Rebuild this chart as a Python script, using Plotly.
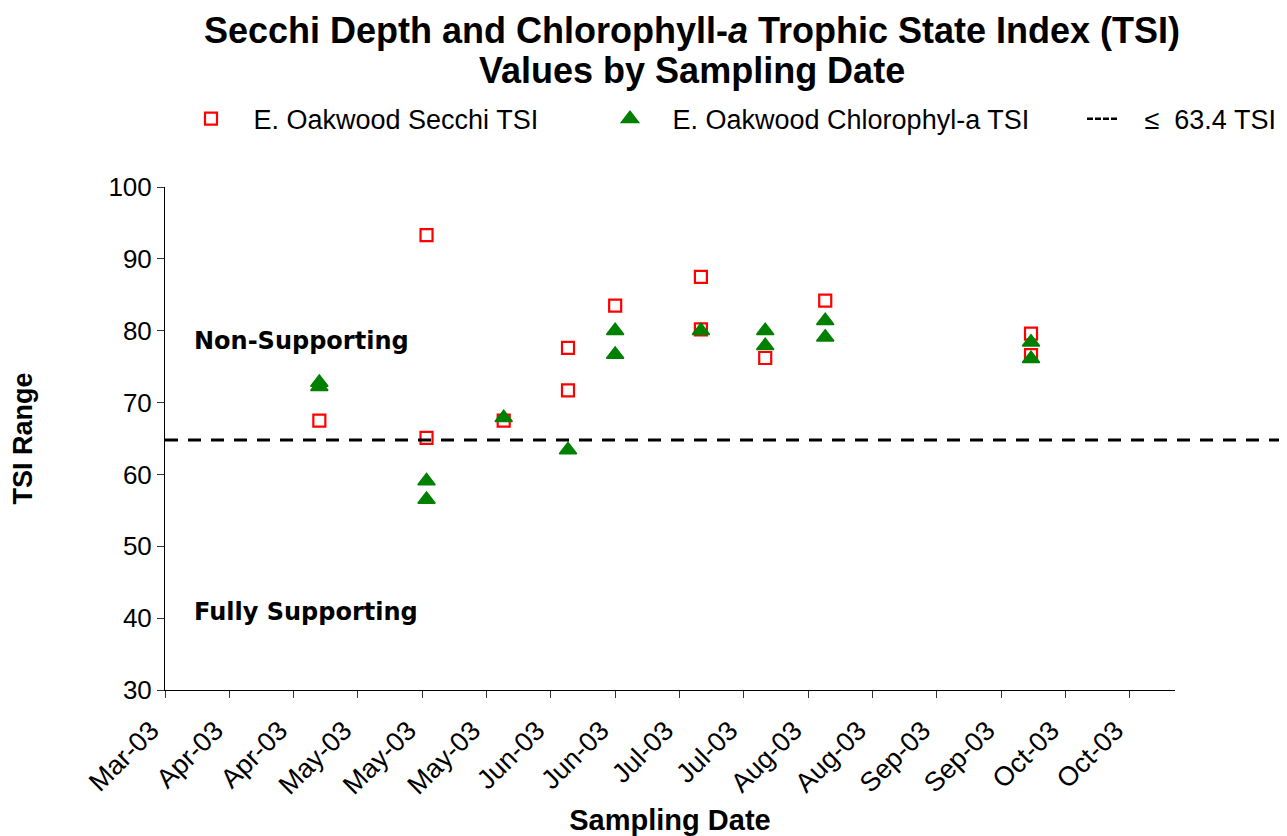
import plotly.graph_objects as go

# ---- data ----
secchi_dates = ["2003-04-22", "2003-05-17", "2003-05-17", "2003-06-04", "2003-06-19",
                "2003-06-19", "2003-06-30", "2003-07-20", "2003-07-20", "2003-08-04",
                "2003-08-18", "2003-10-05", "2003-10-05"]
secchi_tsi = [67.5, 93.3, 65.1, 67.5, 77.6, 71.7, 83.5, 87.5, 80.2, 76.2, 84.2, 79.6, 76.6]

chl_dates = ["2003-04-22", "2003-04-22", "2003-05-17", "2003-05-17", "2003-06-04",
             "2003-06-19", "2003-06-30", "2003-06-30", "2003-07-20", "2003-08-04",
             "2003-08-04", "2003-08-18", "2003-08-18", "2003-10-05", "2003-10-05"]
chl_tsi = [72.8, 72.2, 59.1, 56.5, 67.9, 63.4, 80.0, 76.7, 80.0, 80.0, 77.9, 81.4, 79.1, 78.4, 76.1]

threshold_line = 64.8
threshold_label = "63.4"

x_range = ["2003-03-17", "2003-11-07 14:00"]
y_range = [30, 100]

NB = "\u00a0"
FONT = "Liberation Sans, Arial, sans-serif"
fig = go.Figure()

fig.add_trace(go.Scatter(
    x=secchi_dates, y=secchi_tsi, mode="markers",
    name=NB * 3 + "E. Oakwood Secchi TSI", legend="legend",
    marker=dict(symbol="square-open", size=12, color="#FF0000",
                line=dict(color="#FF0000", width=2.2)),
    cliponaxis=False,
))
fig.add_trace(go.Scatter(
    x=chl_dates, y=chl_tsi, mode="markers",
    name=NB * 3 + "E. Oakwood Chlorophyl-a TSI", legend="legend2",
    marker=dict(symbol="triangle-up", size=15, color="#008000",
                line=dict(color="#008000", width=1.5)),
    cliponaxis=False,
))
fig.add_trace(go.Scatter(
    x=[None], y=[None], mode="lines", legend="legend3",
    name=NB * 3 + "\u2264" + NB * 2 + threshold_label + " TSI",
    line=dict(color="black", width=2.5, dash="6px,2px"),
))

fig.add_shape(type="line", xref="paper", yref="y", x0=0, x1=1.12,
              y0=threshold_line, y1=threshold_line,
              line=dict(color="black", width=3, dash="13px,10px"))

ann_font = dict(family="DejaVu Sans", size=24, color="black")
fig.add_annotation(text="<b>Non-Supporting</b>", xref="paper", yref="y",
                   x=0.027, y=78.5, xanchor="left", yanchor="middle",
                   showarrow=False, font=ann_font)
fig.add_annotation(text="<b>Fully Supporting</b>", xref="paper", yref="y",
                   x=0.027, y=40.9, xanchor="left", yanchor="middle",
                   showarrow=False, font=ann_font)
# second title line
fig.add_annotation(text="<b>Values by Sampling Date</b>", xref="paper", yref="paper",
                   x=(684 - 157) / 1010, y=(682 - 62) / 503, xanchor="center",
                   yanchor="middle", showarrow=False,
                   font=dict(size=36, family=FONT, color="black"))

leg_common = dict(orientation="h", xanchor="left", y=1.135, yanchor="middle",
                  font=dict(size=27, family=FONT), bgcolor="rgba(0,0,0,0)",
                  itemwidth=30)

fig.update_layout(
    width=1279, height=828,
    margin=dict(l=157, r=112, t=179, b=146, autoexpand=False),
    paper_bgcolor="white", plot_bgcolor="white",
    font=dict(family=FONT, color="black"),
    title=dict(
        text="<b>Secchi Depth and Chlorophyll-<i>a</i> Trophic State Index (TSI)</b>",
        x=684 / 1279, xanchor="center", xref="container",
        y=1 - 22 / 828, yanchor="middle", yref="container",
        font=dict(size=36, family=FONT, color="black"),
    ),
    legend=dict(x=(183 - 157) / 1010, **leg_common),
    legend2=dict(x=(602 - 157) / 1010, **leg_common),
    legend3=dict(x=(1074 - 157) / 1010, **leg_common),
    showlegend=True,
    xaxis=dict(
        type="date", range=x_range, tick0="2003-03-17", dtick=15 * 86400000,
        tickformat="%b-%y", tickangle=-45, ticks="outside", ticklen=7,
        tickcolor="#333", showline=True, linecolor="black", linewidth=1,
        showgrid=False, zeroline=False, automargin=False,
        tickfont=dict(size=27), ticklabelshift=-14, ticklabelstandoff=6,
        title=dict(text="<b>Sampling Date</b>", font=dict(size=29), standoff=13),
    ),
    yaxis=dict(
        range=y_range, dtick=10, ticks="outside", ticklen=7, tickcolor="#333",
        showline=True, linecolor="black", linewidth=1, showgrid=False,
        zeroline=False, automargin=False, tickfont=dict(size=26),
        title=dict(text="<b>TSI Range</b>", font=dict(size=27), standoff=70),
    ),
)

fig.write_html("out.html")
